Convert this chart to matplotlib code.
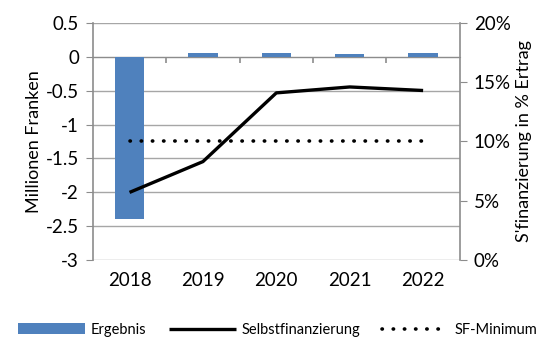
import matplotlib.pyplot as plt
import numpy as np

plt.rcParams['font.family'] = ['Lato', 'DejaVu Sans']

# data
years = ['2018', '2019', '2020', '2021', '2022']
ergebnis = [-2.40, 0.06, 0.06, 0.04, 0.06]           # Mio. Fr.
selbstfin = [5.7, 8.3, 14.1, 14.6, 14.3]            # % Ertrag
sf_minimum = [10, 10, 10, 10, 10]
left_ticks = [0.5, 0, -0.5, -1, -1.5, -2, -2.5, -3]
left_labels = ['0.5', '0', '-0.5', '-1', '-1.5', '-2', '-2.5', '-3']
right_ticks = [0, 5, 10, 15, 20]

gray = '#8c8c8c'
blue = '#4f81bd'

fig = plt.figure(figsize=(5.56, 3.38), dpi=100)
ax = fig.add_axes([0.167, 0.231, 0.66, 0.701])
x = np.arange(len(years))

bars = ax.bar(x, ergebnis, width=0.4, color=blue, zorder=3, label='Ergebnis')
ax.set_xlim(-0.5, len(years) - 0.5)
ax.set_ylim(-3, 0.5)
ax.set_yticks(left_ticks)
ax.set_yticklabels(left_labels)
ax.yaxis.grid(True, color='#a6a6a6', lw=1)
ax.set_axisbelow(True)
ax.tick_params(axis='y', length=5, color=gray, labelsize=13.5, pad=5)
ax.set_ylabel('Millionen Franken', fontsize=13, labelpad=3)

# x axis at zero with ticks between categories
ax.spines['bottom'].set_position(('data', 0))
ax.spines['bottom'].set_color(gray)
ax.set_xticks(x[:-1] + 0.5)
ax.set_xticklabels([])
ax.tick_params(axis='x', length=4, color=gray, width=1.2)
for s in ['top', 'right']:
    ax.spines[s].set_visible(False)
ax.spines['left'].set_color(gray)
ax.spines['left'].set_linewidth(1.2)

sec = ax.secondary_xaxis(0)
sec.set_xticks(x)
sec.set_xticklabels(years)
sec.tick_params(length=0, labelsize=13.5, pad=9)
sec.spines['bottom'].set_visible(False)

ax2 = ax.twinx()
ax2.set_ylim(0, 20)
ax2.set_yticks(right_ticks)
ax2.set_yticklabels([f'{t}%' for t in right_ticks])
ax2.tick_params(axis='y', length=5, color=gray, labelsize=13.5, pad=5)
for s in ['top', 'left', 'bottom']:
    ax2.spines[s].set_visible(False)
ax2.spines['right'].set_color(gray)
ax2.spines['right'].set_linewidth(1.2)
ax2.set_ylabel("S'finanzierung in % Ertrag", fontsize=13, labelpad=4)

l1, = ax2.plot(x, selbstfin, color='black', lw=2.4, solid_capstyle='butt',
               label='Selbstfinanzierung')
l2, = ax2.plot(x, sf_minimum, color='black', lw=2.6, linestyle=(0, (0.1, 3.0)),
               dash_capstyle='round', label='SF-Minimum')

fig.legend([bars, l1, l2], ['Ergebnis', 'Selbstfinanzierung', 'SF-Minimum'],
           loc='lower center', bbox_to_anchor=(0.5, -0.035), ncol=3, frameon=False,
           fontsize=10.5, handlelength=4.6, columnspacing=1.5, handletextpad=0.4)

fig.savefig('out.png', dpi=100)
